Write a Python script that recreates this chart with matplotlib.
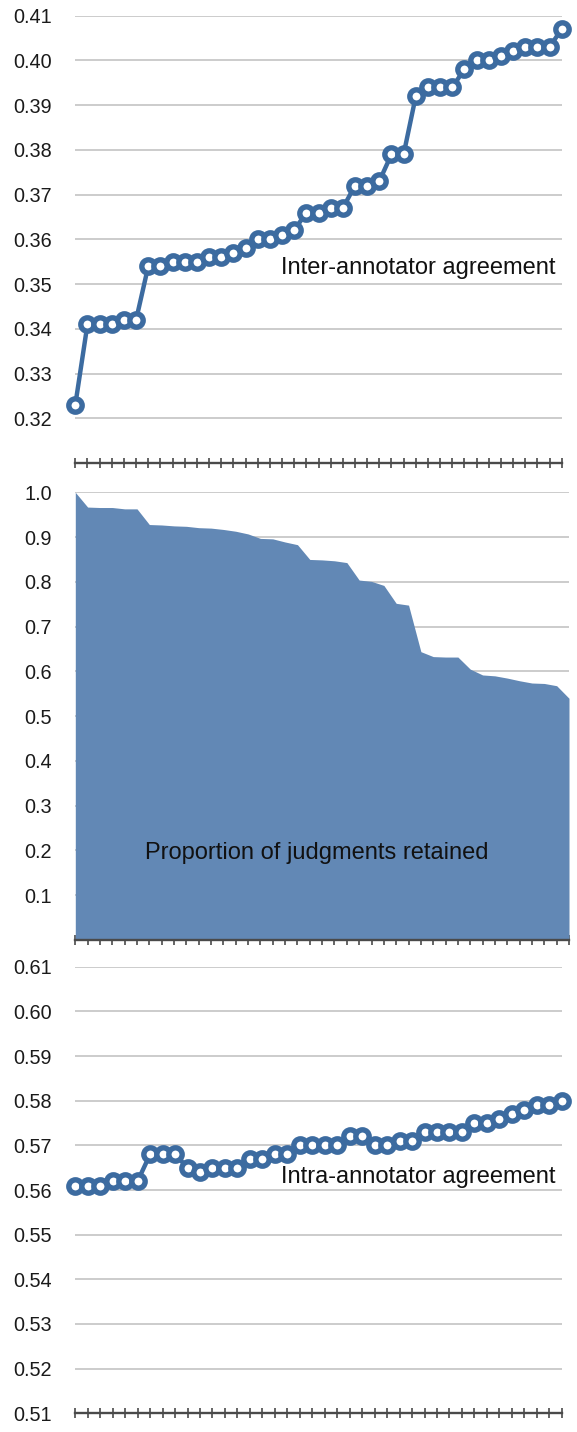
import matplotlib
matplotlib.use("Agg")
import matplotlib.pyplot as plt
import numpy as np

plt.rcParams['font.family'] = ['Liberation Sans', 'DejaVu Sans']

# ---- data ----
inter_agreement = [0.323, 0.341, 0.341, 0.341, 0.342, 0.342, 0.354, 0.354, 0.355, 0.355,
                   0.355, 0.356, 0.356, 0.357, 0.358, 0.360, 0.360, 0.361, 0.362, 0.366,
                   0.366, 0.367, 0.367, 0.372, 0.372, 0.373, 0.379, 0.379, 0.392, 0.394,
                   0.394, 0.394, 0.398, 0.400, 0.400, 0.401, 0.402, 0.403, 0.403, 0.403,
                   0.407]
retained = [1.000, 0.967, 0.966, 0.966, 0.963, 0.963, 0.928, 0.927, 0.925, 0.924,
            0.921, 0.920, 0.917, 0.913, 0.907, 0.897, 0.896, 0.889, 0.883, 0.850,
            0.849, 0.847, 0.843, 0.804, 0.801, 0.792, 0.752, 0.748, 0.644, 0.633,
            0.632, 0.632, 0.605, 0.592, 0.590, 0.585, 0.579, 0.574, 0.573, 0.568,
            0.540]
intra_agreement = [0.561, 0.561, 0.561, 0.562, 0.562, 0.562, 0.568, 0.568, 0.568, 0.565,
                   0.564, 0.565, 0.565, 0.565, 0.567, 0.567, 0.568, 0.568, 0.570, 0.570,
                   0.570, 0.570, 0.572, 0.572, 0.570, 0.570, 0.571, 0.571, 0.573, 0.573,
                   0.573, 0.573, 0.575, 0.575, 0.576, 0.577, 0.578, 0.579, 0.579, 0.580]

top_ticks = [0.32, 0.33, 0.34, 0.35, 0.36, 0.37, 0.38, 0.39, 0.40, 0.41]
mid_ticks = [0.1, 0.2, 0.3, 0.4, 0.5, 0.6, 0.7, 0.8, 0.9, 1.0]
bot_ticks = [0.51, 0.52, 0.53, 0.54, 0.55, 0.56, 0.57, 0.58, 0.59, 0.60, 0.61]

labels = ["Inter-annotator agreement", "Proportion of judgments retained",
          "Intra-annotator agreement"]

LINE = "#3c6ba0"
AREA = "#6288b5"
GRID = "#c8c8c8"
AXC = "#4a4a4a"

W, H = 577, 1432
fig = plt.figure(figsize=(W / 100, H / 100), dpi=100)


def make_ax(left, right, top, bottom):
    return fig.add_axes([left / W, 1 - bottom / H, (right - left) / W, (bottom - top) / H])


def style(ax, n, yticks, ylim, fmt):
    ax.set_xlim(0, n - 1)
    ax.set_ylim(*ylim)
    ax.set_xticks(np.arange(n))
    ax.set_xticklabels([])
    ax.set_yticks(yticks)
    ax.set_yticklabels([fmt.format(v) for v in yticks], fontsize=14.3, color="#1a1a1a")
    ax.tick_params(axis='y', length=0, pad=17)
    ax.tick_params(axis='x', direction='inout', length=7, width=1.2, color=AXC)
    for s in ['top', 'right', 'left']:
        ax.spines[s].set_visible(False)
    ax.spines['bottom'].set_color(AXC)
    ax.spines['bottom'].set_linewidth(1.7)
    ax.yaxis.grid(True, color=GRID, linewidth=1.3)
    ax.set_facecolor('none')


# top panel
ax1 = make_ax(75.3, 561.7, 15.7, 463)
x1 = np.arange(len(inter_agreement))
ax1.plot(x1, inter_agreement, color=LINE, lw=3.2, marker='o', ms=9.6,
         mfc='white', mec=LINE, mew=3.9, clip_on=False, zorder=3)
style(ax1, len(inter_agreement), top_ticks, (0.31, 0.41), "{:.2f}")
ax1.text(0.987, (0.3535 - 0.31) / 0.10, labels[0], transform=ax1.transAxes,
         ha='right', va='center', fontsize=17, color="#111111")

# middle panel
ax2 = make_ax(75.3, 569, 492.3, 940)
x2 = np.arange(len(retained))
ax2.fill_between(x2, 0, retained, color=AREA, lw=0, zorder=2)
style(ax2, len(retained), mid_ticks, (0, 1.0), "{:.1f}")
ax2.text(0.49, 0.195, labels[1], transform=ax2.transAxes,
         ha='center', va='center', fontsize=17, color="#111111", zorder=4)

# bottom panel
ax3 = make_ax(75.3, 561.7, 966.7, 1413.3)
x3 = np.arange(len(intra_agreement))
ax3.plot(x3, intra_agreement, color=LINE, lw=3.2, marker='o', ms=9.6,
         mfc='white', mec=LINE, mew=3.9, clip_on=False, zorder=3)
style(ax3, len(intra_agreement), bot_ticks, (0.51, 0.61), "{:.2f}")
ax3.text(0.987, (0.5628 - 0.51) / 0.10, labels[2], transform=ax3.transAxes,
         ha='right', va='center', fontsize=17, color="#111111")

fig.savefig("out.png", dpi=100)
